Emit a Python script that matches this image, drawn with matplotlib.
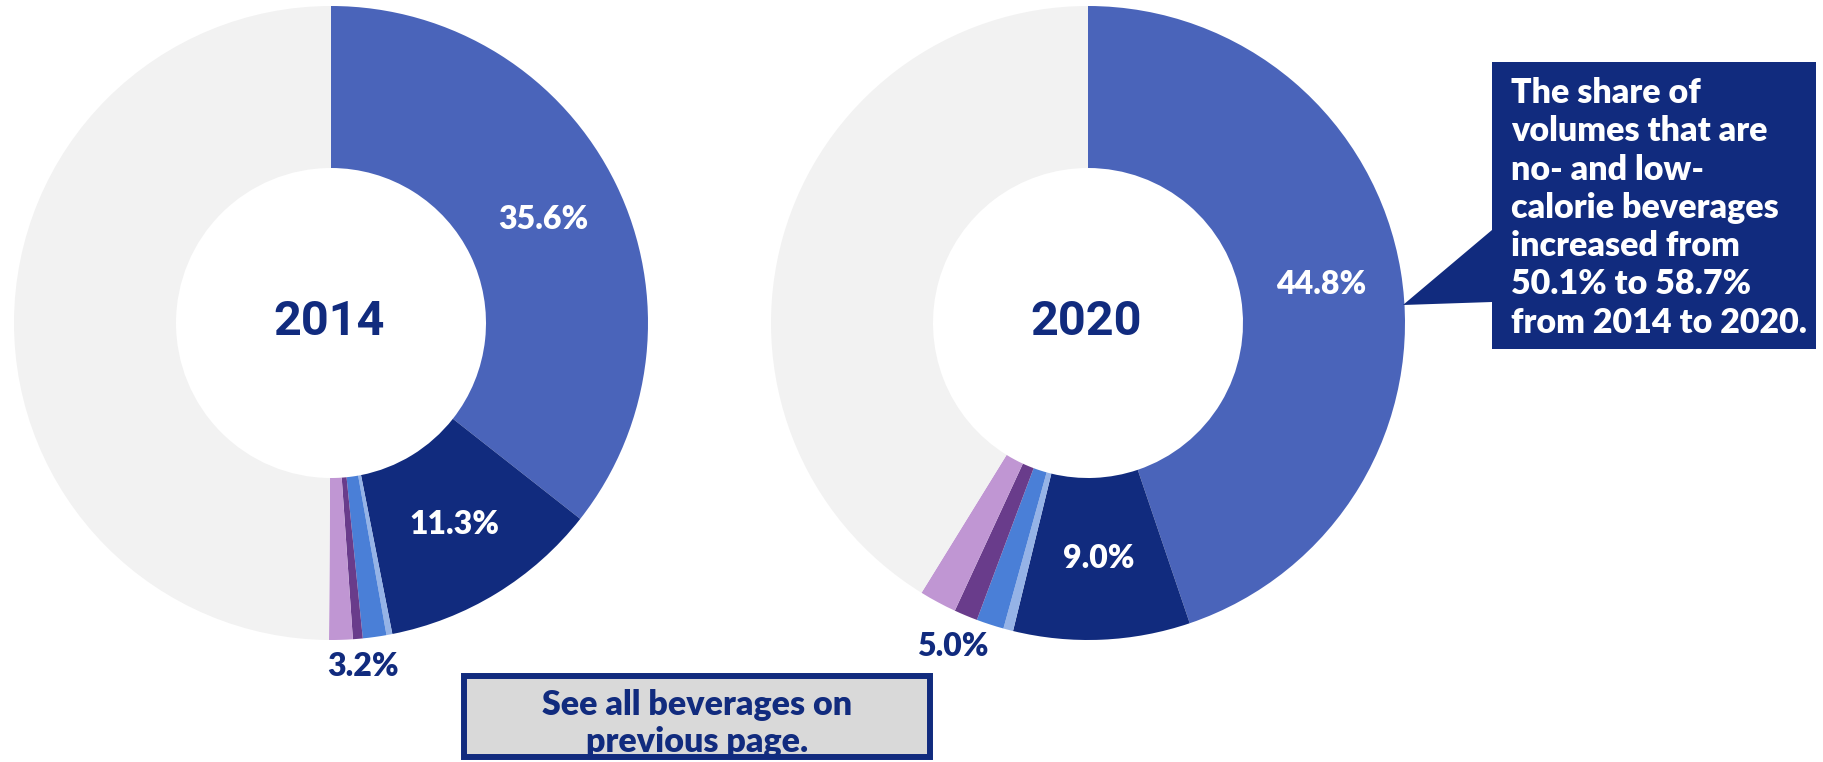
import numpy as np
import matplotlib
matplotlib.use('Agg')
import matplotlib.pyplot as plt
from matplotlib.patches import Polygon, Rectangle

# dane z wykresu (udzialy w %), kolejnosc zgodnie z ruchem wskazowek zegara od gory
segmenty = ['sredni niebieski', 'granat', 'jasny niebieski', 'niebieski',
            'ciemny fiolet', 'lawenda', 'reszta']
udzialy_2014 = [35.6, 11.3, 0.3, 1.2, 0.5, 1.2, 49.9]
udzialy_2020 = [44.8, 9.0, 0.5, 1.4, 1.2, 1.9, 41.2]
lata = ['2014', '2020']

kolory = ['#4A64BA', '#112B7E', '#95B3E7', '#4A7FD7', '#693C8B', '#C096D3', '#F2F2F2']
NAVY = '#112B7E'

opis = ['The share of', 'volumes that are', 'no- and low-', 'calorie beverages',
        'increased from', '50.1% to 58.7%', 'from 2014 to 2020.']
przycisk = ['See all beverages on', 'previous page.']

W, H = 1823, 762
fig = plt.figure(figsize=(W / 100, H / 100), dpi=100)
ax = fig.add_axes([0, 0, 1, 1])

R = 317
r_in = 155
srodki = [(331, H - 323), (1088, H - 323)]
zewn_r = [1.087, 1.107]
WAGA = 'heavy'

for dane, rok, c, kr in zip([udzialy_2014, udzialy_2020], lata, srodki, zewn_r):
    wedges, _ = ax.pie(dane, colors=kolory, startangle=90, counterclock=False,
                       center=c, radius=R,
                       wedgeprops=dict(width=R - r_in, edgecolor='none', linewidth=0))
    # etykiety duzych wycinkow w srodku pierscienia
    for i in range(2):
        w = wedges[i]
        kat = np.deg2rad((w.theta1 + w.theta2) / 2)
        rr = (R + r_in) / 2
        ax.text(c[0] + rr * np.cos(kat), c[1] + rr * np.sin(kat), f'{dane[i]:.1f}%',
                color='white', fontsize=23, fontweight=WAGA, family='Lato',
                ha='center', va='center')
    # suma malych wycinkow poza pierscieniem
    male = wedges[2:6]
    t1 = min(w.theta1 for w in male)
    t2 = max(w.theta2 for w in male)
    kat = np.deg2rad((t1 + t2) / 2)
    suma = sum(dane[2:6])
    ax.text(c[0] + kr * R * np.cos(kat), c[1] + kr * R * np.sin(kat), f'{suma:.1f}%',
            color=NAVY, fontsize=23, fontweight=WAGA, family='Lato',
            ha='center', va='center')
    ax.text(c[0] - 2, c[1] + 1, rok, color=NAVY, fontsize=35, fontweight='bold',
            family='Roboto', ha='center', va='center')

# dymek z opisem
dymek = Polygon([(1492, H - 62), (1816, H - 62), (1816, H - 349), (1492, H - 349),
                 (1492, H - 302), (1403, H - 305), (1492, H - 230)],
                closed=True, facecolor=NAVY, edgecolor='none')
ax.add_patch(dymek)
for k, linia in enumerate(opis):
    ax.text(1511, H - (103 + 38.3 * k), linia, color='white', fontsize=24.5,
            fontweight=WAGA, family='Lato', ha='left', va='baseline')

# ramka z odsylaczem
ax.add_patch(Rectangle((464, H - 757), 466, 81, facecolor='#D9D9D9',
                       edgecolor=NAVY, linewidth=4.3))
for k, linia in enumerate(przycisk):
    ax.text(697, H - (715 + 37 * k), linia, color=NAVY, fontsize=24.5,
            fontweight=WAGA, family='Lato', ha='center', va='baseline')

ax.set_xlim(0, W)
ax.set_ylim(0, H)
ax.set_aspect('equal')
ax.axis('off')

fig.savefig('out.png', dpi=100, facecolor='white')
